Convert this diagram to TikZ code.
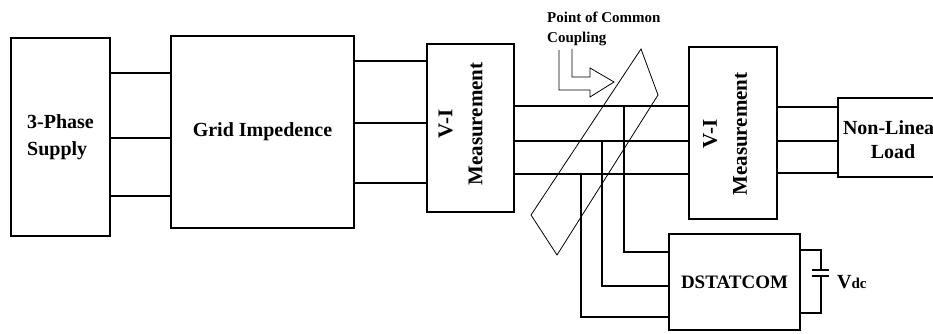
\documentclass[tikz,border=0pt]{standalone}
\usepackage{fontspec}
\setmainfont{Liberation Serif}
\usepackage{tikz}
\usetikzlibrary{positioning,calc}
\tikzset{bloc/.style={draw, line width=1.3pt, inner sep=0pt, align=center, font=\bfseries\fontsize{20}{27}\selectfont},
  fil/.style={line width=1.3pt},
  fin/.style={line width=0.8pt},
  lbl/.style={inner sep=0pt, font=\bfseries\fontsize{20}{24}\selectfont, align=center}}

\begin{document}
\begin{tikzpicture}[x=1pt,y=-1pt]
\useasboundingbox (0,0) rectangle (933,334);

% blocs
\node[bloc, minimum width=99pt, minimum height=198pt, align=left] (supply) at (60.5,137) {3-Phase\\Supply};
\node[bloc, minimum width=183pt, minimum height=192pt] (grid) at (262.5,132) {Grid Impedence};
\node[bloc, minimum width=87pt, minimum height=168pt] (vim1) at (470.5,128) {};
\node[bloc, minimum width=88pt, minimum height=172pt] (vim2) at (733,133) {};
\node[bloc, minimum width=114pt, minimum height=79pt] (load) at (895,137.5) {};
\node[bloc, minimum width=131pt, minimum height=96pt, font=\bfseries\fontsize{19}{22}\selectfont] (dstat) at (734.5,282) {DSTATCOM};

\node[lbl, rotate=90, font=\bfseries\fontsize{21}{30}\selectfont] (vim1txt) at ($(vim1.center)+(-10,-4)$) {V-I\\Measurement};
\node[lbl, rotate=90, font=\bfseries\fontsize{21}{30}\selectfont] (vim2txt) at ($(vim2.center)+(-8,1)$) {V-I\\Measurement};
\node[lbl] (loadtxt) at (893,140) {Non-Linear\\Load};

% lignes triphasees
\foreach \y in {73,138,196}
    \draw[fil] (supply.east |- 0,\y) -- (grid.west |- 0,\y);
\foreach \y in {61,123,183}
    \draw[fil] (grid.east |- 0,\y) -- (vim1.west |- 0,\y);
\foreach \y in {106,141,174}
    \draw[fil] (vim1.east |- 0,\y) -- (vim2.west |- 0,\y);
\foreach \y in {107,141,173}
    \draw[fil] (vim2.east |- 0,\y) -- (load.west |- 0,\y);

% DSTATCOM
\coordinate (tapa) at (624,106);
\coordinate (tapb) at (602,141);
\coordinate (tapc) at (581,174);
\draw[fil] (tapa) |- (dstat.west |- 0,252);
\draw[fil] (tapb) |- (dstat.west |- 0,286);
\draw[fil] (tapc) |- (dstat.west |- 0,317);

% Vdc
\coordinate (captop) at (821,270);
\coordinate (capbot) at (821,276);
\draw[fil] (dstat.east |- 0,250) -| (captop);
\draw[fil] (dstat.east |- 0,313) -| (capbot);
\draw[fil] ($(captop)+(-9,0)$) -- ($(captop)+(8,0)$);
\draw[fil] ($(capbot)+(-9,0)$) -- ($(capbot)+(8,0)$);
\node[anchor=base west, inner sep=0pt, font=\bfseries\fontsize{20}{24}\selectfont] (vdc) at (837,288) {V{\fontsize{15}{18}\selectfont dc}};

% PCC
\node[anchor=north west, inner sep=0pt, align=left, font=\bfseries\fontsize{15}{20}\selectfont] (pcc) at (547,12) {Point of Common\\Coupling};
\draw[fin] (559,50) |- (590,90) -- (590,97) -- (614,82) -- (590,68) -- (590,77) -| (572,49);
\draw[fin] (641,49) -- (658,95) -- (557,255) -- (531,215) -- cycle;

\end{tikzpicture}
\end{document}
